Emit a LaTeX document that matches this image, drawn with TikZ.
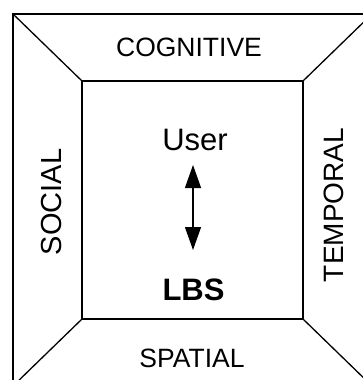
\documentclass[tikz,border=0pt]{standalone}
\usepackage{fontspec}
\setmainfont{Liberation Sans}
\usetikzlibrary{arrows.meta}
\begin{document}
\begin{tikzpicture}[x=1pt,y=-1pt,
  thin line/.style={line width=1.3pt},
  thick line/.style={line width=2.4pt},
  lab/.style={inner sep=0pt,anchor=base,font=\fontsize{26.5}{30}\selectfont},
  big/.style={inner sep=0pt,anchor=base,font=\fontsize{31}{34}\selectfont}]
\useasboundingbox (0,0) rectangle (363,380);
\clip (0,0) rectangle (363,380);
\coordinate (o1) at (13,14);
\coordinate (o2) at (372,14);
\coordinate (o3) at (372,386);
\coordinate (o4) at (13,386);
\coordinate (i1) at (82,81);
\coordinate (i2) at (303,81);
\coordinate (i3) at (303,319);
\coordinate (i4) at (82,319);
\draw[thick line] (o1) -- (o2) -- (o3) -- (o4) -- cycle;
\draw[thin line] (i1) -- (i2) -- (i3) -- (i4) -- cycle;
\draw[thin line] (o1) -- (i1);
\draw[thin line] (o2) -- (i2);
\draw[thin line] (o3) -- (i3);
\draw[thin line] (o4) -- (i4);
\node[lab] (cog) at (189,56) {COGNITIVE};
\node[lab] (spa) at (192,367) {SPATIAL};
\node[lab,rotate=90,font=\fontsize{29}{32}\selectfont] (soc) at (61,202) {SOCIAL};
\node[lab,rotate=90,font=\fontsize{28}{32}\selectfont] (tem) at (343,205) {TEMPORAL};
\node[big] (user) at (195,150) {User};
\node[big,font=\fontsize{31}{34}\selectfont\bfseries] (lbs) at (193.5,300) {LBS};
\coordinate (atop) at (193,165);
\coordinate (abot) at (193,250);
\draw[line width=1.3pt,{Triangle[length=23pt,width=16pt]}-{Triangle[length=23pt,width=16pt]}] (atop) -- (abot);
\end{tikzpicture}
\end{document}
